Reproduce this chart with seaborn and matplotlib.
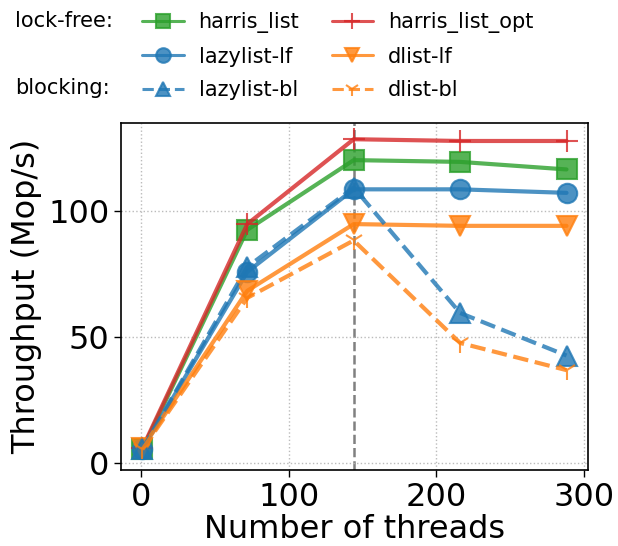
import matplotlib
matplotlib.use("Agg")
import matplotlib.pyplot as plt
import seaborn as sns

# thread counts and throughput (Mop/s)
threads = [1, 72, 144, 216, 288]
harris_list = [5.5, 92.7, 120.4, 119.7, 116.7]
harris_list_opt = [6.0, 95.0, 128.7, 128.0, 128.0]
lazylist_lf = [5.5, 76.0, 108.8, 108.8, 107.4]
dlist_lf = [6.0, 68.5, 95.0, 94.3, 94.3]
lazylist_bl = [5.5, 78.0, 109.5, 59.7, 42.8]
dlist_bl = [5.5, 65.7, 88.5, 47.8, 37.0]
marked_threads = 144

series = [
    ("harris_list", harris_list, "tab:green", "s", "-", 14),
    ("harris_list_opt", harris_list_opt, "tab:red", "+", "-", 16),
    ("lazylist-lf", lazylist_lf, "tab:blue", "o", "-", 14),
    ("dlist-lf", dlist_lf, "tab:orange", "v", "-", 14),
    ("lazylist-bl", lazylist_bl, "tab:blue", "^", "--", 14),
    ("dlist-bl", dlist_bl, "tab:orange", "1", "--", 14),
]

sns.set_style("white")
plt.rcParams["font.family"] = ["DejaVu Sans"]
plt.rcParams["text.color"] = "black"
plt.rcParams["axes.labelcolor"] = "black"
plt.rcParams["xtick.color"] = "black"
plt.rcParams["ytick.color"] = "black"

fig = plt.figure(figsize=(6.18, 5.46), dpi=100)
ax = fig.add_axes([0.196, 0.139, 0.755, 0.636])

handles = {}
for name, vals, color, marker, ls, ms in series:
    sns.lineplot(x=threads, y=vals, ax=ax, color=color, marker=marker,
                 markersize=ms, linewidth=3, linestyle=ls, alpha=0.8,
                 markeredgecolor=color, markeredgewidth=1.5, label=name)
    handles[name] = ax.get_lines()[-1]

ax.axvline(marked_threads, color="gray", linestyle="--", linewidth=1.8, zorder=0)

ax.set_xlim(-13.35, 302.35)
ax.set_ylim(-2.7, 135.2)
ax.set_xticks([0, 100, 200, 300])
ax.set_yticks([0, 50, 100])
ax.grid(True, linestyle=":", color="#bbbbbb", linewidth=1)
for sp in ax.spines.values():
    sp.set_color("black")
    sp.set_linewidth(1.2)
ax.tick_params(axis="both", labelsize=23, length=5, width=1, direction="out",
               bottom=True, left=True)
ax.set_xlabel("Number of threads", fontsize=23, labelpad=1)
ax.set_ylabel("Throughput (Mop/s)", fontsize=23)
ax.get_legend().remove()

order = ["harris_list", "lazylist-lf", "lazylist-bl",
         "harris_list_opt", "dlist-lf", "dlist-bl"]
leg = fig.legend([handles[n] for n in order], order, ncol=2, loc="upper left",
                 bbox_to_anchor=(0.2, 1.012), frameon=False, fontsize=15,
                 handlelength=2.0, handletextpad=0.7, columnspacing=1.55,
                 labelspacing=0.65, markerscale=0.75)
for h in leg.legend_handles:
    h.set_linewidth(2.2)
fig.text(0.024, 0.962, "lock-free:", fontsize=15, va="center", ha="left")
fig.text(0.024, 0.838, "blocking:", fontsize=15, va="center", ha="left")

fig.savefig("out.png", dpi=100)
